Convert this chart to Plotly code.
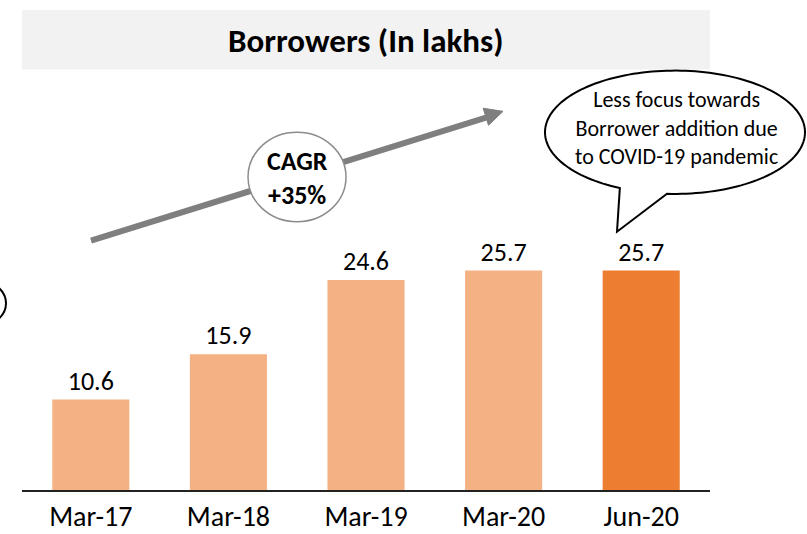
import numpy as np
import plotly.graph_objects as go

categories = ["Mar-17", "Mar-18", "Mar-19", "Mar-20", "Jun-20"]
borrowers = [10.6, 15.9, 24.6, 25.7, 25.7]
bar_colors = ["#F4B183", "#F4B183", "#F4B183", "#F4B183", "#ED7D31"]
title_text = "Borrowers (In lakhs)"
cagr_lines = ["CAGR", "+35%"]
bubble_text = "Less focus towards<br>Borrower addition due<br>to COVID-19 pandemic"

W, H = 807, 534
FONT = "Carlito, Lato, sans-serif"


def px(x):
    return x / W


def py(y):
    return 1 - y / H


fig = go.Figure()
fig.add_trace(go.Bar(
    x=categories, y=borrowers,
    marker=dict(color=bar_colors, line=dict(width=0)),
    text=[f"{v:.1f}" for v in borrowers],
    textposition="outside",
    textfont=dict(size=26, color="black", family=FONT),
    cliponaxis=False,
))

shapes = []
# title band
shapes.append(dict(type="rect", xref="paper", yref="paper",
                   x0=px(22), x1=px(710), y0=py(70), y1=py(10),
                   fillcolor="#F2F2F2", line=dict(width=0), layer="below"))

# growth arrow (line + head)
x0a, y0a, x1a, y1a = 91, 242, 490, 117
shapes.append(dict(type="line", xref="paper", yref="paper",
                   x0=px(x0a), y0=py(y0a), x1=px(x1a), y1=py(y1a),
                   line=dict(color="#7F7F7F", width=6)))
tip = np.array([503.0, 112.0])
d = np.array([x1a - x0a, y1a - y0a], dtype=float)
d /= np.linalg.norm(d)
n = np.array([-d[1], d[0]])
base = tip - d * 18
p1 = base + n * 9
p2 = base - n * 9
path = "M {} {} L {} {} L {} {} Z".format(px(tip[0]), py(tip[1]), px(p1[0]), py(p1[1]), px(p2[0]), py(p2[1]))
shapes.append(dict(type="path", xref="paper", yref="paper", path=path,
                   fillcolor="#7F7F7F", line=dict(color="#7F7F7F", width=1)))

# CAGR circle
shapes.append(dict(type="circle", xref="paper", yref="paper",
                   x0=px(248), x1=px(346), y0=py(223), y1=py(133),
                   fillcolor="white", line=dict(color="#8C8C8C", width=1.5)))

# speech bubble
cx, cy, rx, ry = 675, 133, 130, 62
ang_start = np.arctan2((195 - cy) / ry, (667 - cx) / rx)
ang_end = np.arctan2((190 - cy) / ry, (619 - cx) / rx)
if ang_end > ang_start:
    ang_end -= 2 * np.pi
ts = np.linspace(ang_start, ang_end, 160)
pts = [(cx + rx * np.cos(t), cy + ry * np.sin(t)) for t in ts]
pts.append((617, 233))
path = "M " + " L ".join(f"{px(x):.5f} {py(y):.5f}" for x, y in pts) + " Z"
shapes.append(dict(type="path", xref="paper", yref="paper", path=path,
                   fillcolor="white", line=dict(color="black", width=2)))

# partial circle at left edge
shapes.append(dict(type="circle", xref="paper", yref="paper",
                   x0=px(-60), x1=px(6), y0=py(330), y1=py(280),
                   fillcolor="rgba(0,0,0,0)", line=dict(color="black", width=2)))

annotations = [
    dict(text=f"<b>{title_text}</b>", xref="paper", yref="paper",
         x=px(366), y=py(41), showarrow=False,
         font=dict(size=33, color="black", family=FONT), xanchor="center", yanchor="middle"),
    dict(text=f"<b>{cagr_lines[0]}</b>", xref="paper", yref="paper",
         x=px(297), y=py(179), showarrow=False, borderpad=0,
         font=dict(size=26, color="black", family=FONT), xanchor="center", yanchor="bottom"),
    dict(text=f"<b>{cagr_lines[1]}</b>", xref="paper", yref="paper",
         x=px(297), y=py(179), showarrow=False, borderpad=0,
         font=dict(size=26, color="black", family=FONT), xanchor="center", yanchor="top"),
    dict(text=bubble_text, xref="paper", yref="paper",
         x=px(676), y=py(129), showarrow=False,
         font=dict(size=22, color="black", family=FONT), xanchor="center", yanchor="middle"),
]

fig.update_layout(
    width=W, height=H,
    margin=dict(l=0, r=0, t=0, b=0),
    paper_bgcolor="white", plot_bgcolor="white",
    showlegend=False,
    bargap=0.44,
    shapes=shapes,
    annotations=annotations,
    font=dict(family=FONT, color="black"),
    xaxis=dict(domain=[px(22), px(710)], showline=True, linecolor="#222222", linewidth=2,
               ticks="", tickfont=dict(size=28, color="black", family=FONT), showgrid=False),
    yaxis=dict(domain=[py(493), py(70)], range=[0, 49.2], visible=False, showgrid=False),
)

fig.write_html("out.html", config={"displayModeBar": False},
               post_script="document.body.style.margin='0px';")
